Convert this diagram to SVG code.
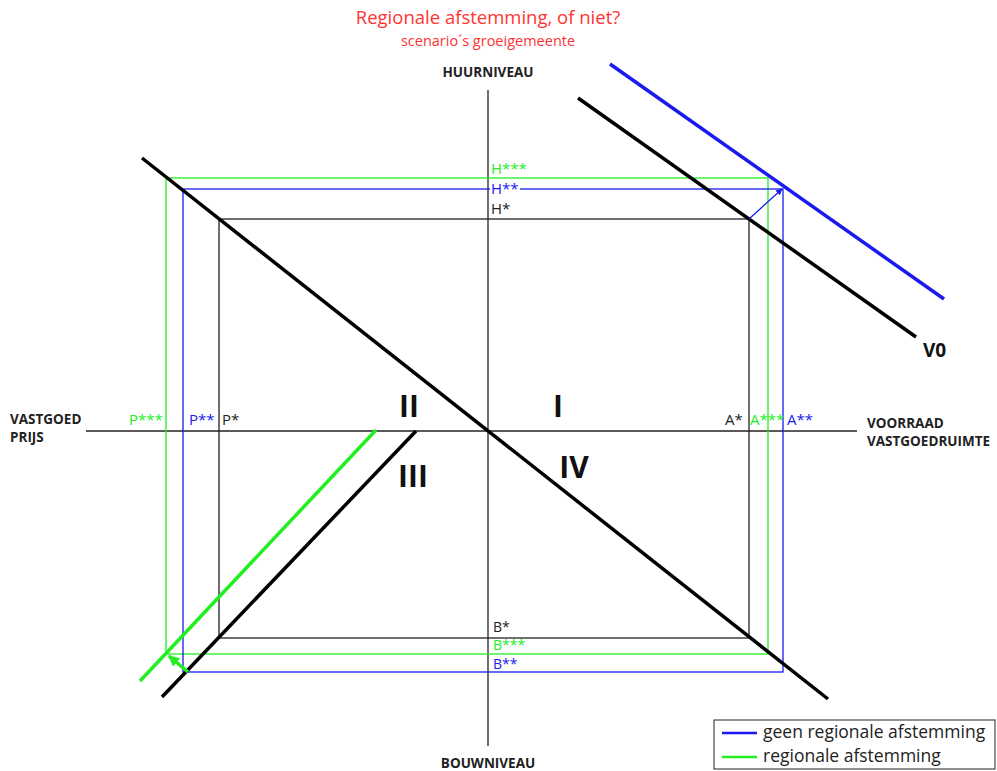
<svg xmlns="http://www.w3.org/2000/svg" width="997" height="771" viewBox="0 0 997 771">
<style>
text{font-family:"Open Sans","Liberation Sans",sans-serif}
.ax{font-weight:bold;font-size:13.5px;fill:#222}
.lb{font-size:15px}
.sm{font-size:14px}
.rn{font-weight:bold;font-size:30px;fill:#111}
.k{fill:#222}.g{fill:#22ee22}.b{fill:#1a1aee}
.thin{fill:none;stroke-width:1.3}
</style>
<defs>
<marker id="ab" viewBox="0 0 10 10" refX="9" refY="5" markerWidth="5" markerHeight="5" orient="auto"><path d="M0,0L10,5L0,10z" fill="#1a1aee"/></marker>
<marker id="ag" viewBox="0 0 10 10" refX="9" refY="5" markerWidth="3.2" markerHeight="3.2" orient="auto"><path d="M0,0L10,5L0,10z" fill="#22ee22"/></marker>
</defs>
<rect width="997" height="771" fill="#fff"/>
<g id="title">
<text x="488" y="24" text-anchor="middle" font-size="18.5" fill="#ff3333">Regionale afstemming, of niet?</text>
<text x="488" y="46" text-anchor="middle" font-size="14.5" fill="#ff3333">scenario´s groeigemeente</text>
</g>
<g id="connectors">
<line x1="488" y1="90" x2="488" y2="746" stroke="#222" stroke-width="1.3"/>
<line x1="86" y1="431" x2="857" y2="431" stroke="#222" stroke-width="1.3"/>
<rect x="219" y="219" width="530" height="419" class="thin" stroke="#222"/>
<rect x="166" y="178" width="602" height="476" class="thin" stroke="#22ee22"/>
<rect x="183" y="189" width="600" height="483" class="thin" stroke="#1a1aee"/>
<line x1="142" y1="158" x2="828" y2="699" stroke="#000" stroke-width="3.5"/>
<line x1="578" y1="98" x2="916" y2="337" stroke="#000" stroke-width="3.5"/>
<line x1="610" y1="64" x2="944" y2="299" stroke="#1a1aee" stroke-width="3.5"/>
<line x1="416" y1="431" x2="162" y2="697" stroke="#000" stroke-width="3.5"/>
<line x1="376" y1="430" x2="140" y2="681" stroke="#22ee22" stroke-width="3.5"/>
<line x1="749" y1="219" x2="782" y2="189" stroke="#1a1aee" stroke-width="1.3" marker-end="url(#ab)"/>
<line x1="188" y1="672" x2="169" y2="656" stroke="#22ee22" stroke-width="3.5" marker-end="url(#ag)"/>
</g>
<g id="axis-labels">
<text class="ax" x="488" y="77" text-anchor="middle">HUURNIVEAU</text>
<text class="ax" x="488" y="768" text-anchor="middle">BOUWNIVEAU</text>
<text class="ax" x="10" y="424">VASTGOED</text>
<text class="ax" x="10" y="442">PRIJS</text>
<text class="ax" x="867" y="428">VOORRAAD</text>
<text class="ax" x="867" y="446">VASTGOEDRUIMTE</text>
<text x="923" y="357" font-weight="bold" font-size="19" fill="#111">V0</text>
</g>
<g id="quadrants">
<text class="rn" x="409" y="417" text-anchor="middle">II</text>
<text class="rn" x="558" y="417" text-anchor="middle">I</text>
<text class="rn" x="413" y="487" text-anchor="middle">III</text>
<text class="rn" x="574" y="478" text-anchor="middle">IV</text>
</g>
<g id="point-labels">
<text class="lb g" x="491" y="174">H***</text>
<rect x="490" y="182" width="30" height="14" fill="#fff"/>
<text class="lb b" x="491" y="194">H**</text>
<text class="lb k" x="491" y="214">H*</text>
<text class="lb g" x="129" y="425">P***</text>
<text class="lb b" x="189" y="425">P**</text>
<text class="lb k" x="222" y="425">P*</text>
<text class="lb k" x="725" y="425">A*</text>
<text class="lb g" x="750" y="425">A***</text>
<text class="lb b" x="787" y="425">A**</text>
<text class="sm k" x="493" y="632">B*</text>
<text class="sm g" x="493" y="650">B***</text>
<text class="sm b" x="493" y="669">B**</text>
</g>
<g id="legend">
<rect x="714" y="720" width="281" height="49" fill="#fff" stroke="#222" stroke-width="1"/>
<line x1="722" y1="733" x2="757" y2="733" stroke="#1a1aee" stroke-width="2.5"/>
<line x1="722" y1="757" x2="757" y2="757" stroke="#22ee22" stroke-width="2.5"/>
<text x="763" y="738" font-size="17.5" fill="#222">geen regionale afstemming</text>
<text x="763" y="762" font-size="17.5" fill="#222">regionale afstemming</text>
</g>
</svg>
